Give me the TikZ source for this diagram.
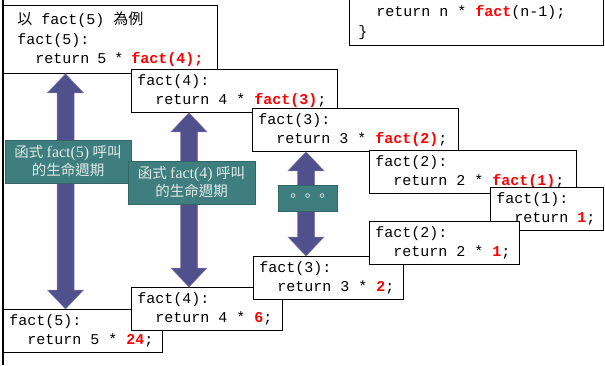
\documentclass[tikz,border=0pt]{standalone}
\usepackage{fontspec}
\usepackage{color}
\usetikzlibrary{calc}
\newfontfamily\codefont{Liberation Mono}
\newfontfamily\cjk{Noto Sans CJK TC}
\newfontfamily\labelserif{Liberation Serif}
\definecolor{callred}{RGB}{255,0,0}
\definecolor{lifeblue}{RGB}{82,80,140}
\definecolor{lifeteal}{RGB}{62,126,126}
\definecolor{lifetext}{RGB}{226,234,234}
\newcommand\hl[1]{\textcolor{callred}{\bfseries #1}}
\newcommand\ind{\hspace*{1.2em}}

\begin{document}
\begin{tikzpicture}[x=1pt,y=-1pt,
  codebox/.style={draw, fill=white, line width=0.8pt, anchor=north west, align=flush left,
    inner xsep=6pt, inner ysep=0pt, minimum height=43pt, text width=#1,
    font=\codefont\fontsize{15}{19.5}\selectfont},
  life/.style={fill=lifeblue, draw=lifeblue!75!white, line width=0.5pt, to path={
    let \p1=(\tikztostart), \p2=(\tikztotarget) in
    (\x1,\y1) -- (\x1+18pt,\y1-19pt) -- (\x1+8.5pt,\y1-19pt) -- (\x1+8.5pt,\y2+19pt)
    -- (\x1+18pt,\y2+19pt) -- (\x1,\y2) -- (\x1-18pt,\y2+19pt) -- (\x1-8.5pt,\y2+19pt)
    -- (\x1-8.5pt,\y1-19pt) -- (\x1-18pt,\y1-19pt) -- cycle}},
  lifelabel/.style={fill=lifeteal, draw=lifeteal!80!black, text=lifetext, align=center,
    inner sep=1pt, minimum height=43pt, font=\cjk\fontsize{14.5}{18}\selectfont}]
\useasboundingbox (0,0) rectangle (605,365);
\clip (0,0) rectangle (605,365);

% definition, only its last lines
\node[codebox=236pt, anchor=south west, inner xsep=9pt, inner ysep=5pt, draw=none] (defn) at (349,45)
  {\ind return n * \hl{fact}(n-1);\\\}};
\draw[line width=0.8pt] (defn.south west |- 0,-10) -- (defn.south west) -- (defn.south east) -- (defn.south east |- 0,-10);

% calls going down
\node[codebox=186pt, inner xsep=14pt, minimum height=68pt] (call5) at (3,5)
  {{\cjk 以} fact(5) {\cjk 為例}\\fact(5):\\\ind return 5 * \hl{fact(4);}};
\node[codebox=194pt] (call4) at (131,69) {fact(4):\\\ind return 4 * \hl{fact(3)};};
\node[codebox=194pt] (call3) at (252,108) {fact(3):\\\ind return 3 * \hl{fact(2)};};
\node[codebox=195pt] (call2) at (369,150) {fact(2):\\\ind return 2 * \hl{fact(1)};};
\node[codebox=101pt] (base1) at (490,187) {fact(1):\\\ind return \hl{1};};

% returns coming back
\node[codebox=147pt] (ret5) at (3,309) {fact(5):\\\ind return 5 * \hl{24};};
\node[codebox=139pt] (ret4) at (131,287) {fact(4):\\\ind return 4 * \hl{6};};
\node[codebox=138pt] (ret3) at (253,256) {fact(3):\\\ind return 3 * \hl{2};};
\node[codebox=138pt] (ret2) at (369,221) {fact(2):\\\ind return 2 * \hl{1};};

\coordinate (lane5) at (65.5,0);
\coordinate (lane4) at (189,0);
\coordinate (lane3) at (306,0);
\path[life] (call5.south -| lane5) to (ret5.north -| lane5);
\path[life] (call4.south -| lane4) to (ret4.north -| lane4);
\path[life] (call3.south -| lane3) to (ret3.north -| lane3);

\node[lifelabel, minimum width=126pt] (tag5) at (68,161.5)
  {函式 {\labelserif\fontsize{16}{18}\selectfont fact(5)} 呼叫\\的生命週期};
\node[lifelabel, minimum width=127pt] (tag4) at (191.5,182.5)
  {函式 {\labelserif\fontsize{16}{18}\selectfont fact(4)} 呼叫\\的生命週期};
\node[lifelabel, minimum width=59pt, minimum height=26pt] (tag3) at (307.5,198) {。。。};

\draw[line width=1.4pt] (3,0) -- (3,365);
\end{tikzpicture}
\end{document}
